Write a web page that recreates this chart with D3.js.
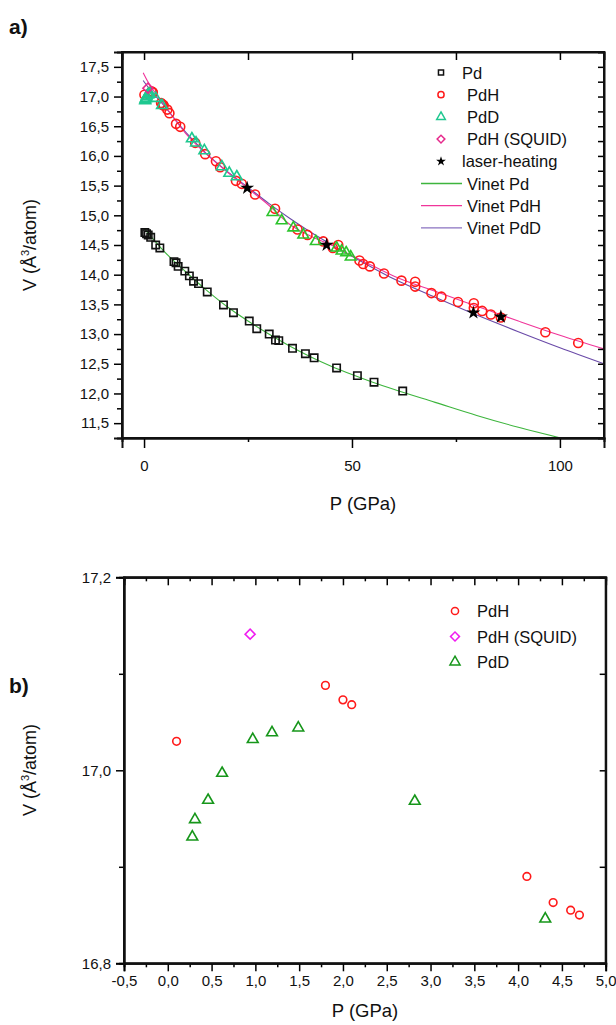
<!DOCTYPE html>
<html lang="en">
<head>
<meta charset="UTF-8" />
<script src="https://d3js.org/d3.v7.min.js"></script>
<style>
  body { margin: 0; background: #fff; }
  text { font-family: Arial, "Liberation Sans", sans-serif; fill: #111; }
  .tick text { font-size: 15px; }
  .domain { stroke-width: 2px; }
  .tick line { stroke-width: 1.5px; }
</style>
</head>
<body>
<script>
// ---- panel a) data, P (GPa) and V (A^3/atom) ----
var pdP = [0.2, 0.6, 1.0, 1.6, 2.8, 3.8, 7.2, 7.7, 8.2, 9.8, 10.9, 11.9, 13.1, 15.2, 19.1, 21.5, 25.3, 27.1, 30.1, 31.6, 32.4, 35.7, 38.8, 40.9, 46.3, 51.3, 55.3, 62.2];
var pdV = [14.71, 14.69, 14.67, 14.63, 14.50, 14.45, 14.22, 14.20, 14.14, 14.06, 13.98, 13.89, 13.85, 13.71, 13.49, 13.36, 13.22, 13.09, 13.00, 12.90, 12.89, 12.76, 12.67, 12.60, 12.43, 12.30, 12.19, 12.04];

var pdhP = [0.1, 1.8, 2.0, 2.1, 4.1, 4.4, 4.6, 4.7, 5.6, 6.1, 7.7, 8.7, 12.3, 14.7, 17.3, 18.3, 22.1, 23.5, 26.7, 31.5, 36.9, 39.3, 43.1, 45.4, 46.7, 51.8, 52.7, 54.3, 57.7, 61.9, 65.2, 65.2, 69.1, 71.5, 75.5, 79.3, 79.3, 81.3, 83.4, 85.8, 96.5, 104.4];
var pdhV = [17.03, 17.09, 17.07, 17.07, 16.89, 16.86, 16.86, 16.85, 16.78, 16.72, 16.54, 16.49, 16.22, 16.03, 15.91, 15.81, 15.58, 15.53, 15.35, 15.11, 14.76, 14.67, 14.56, 14.45, 14.50, 14.24, 14.18, 14.14, 14.02, 13.90, 13.88, 13.80, 13.69, 13.63, 13.54, 13.52, 13.44, 13.39, 13.33, 13.28, 13.03, 12.85];

var pddLowP = [0.28, 0.31, 0.46, 0.62, 0.97, 1.19, 1.49, 2.83, 4.32, 11.5, 12.5, 14.5, 18.7, 20.5, 22.3];
var pddLowV = [16.93, 16.95, 16.97, 17.00, 17.03, 17.04, 17.04, 16.97, 16.85, 16.29, 16.22, 16.09, 15.82, 15.71, 15.65];
var pddHighP = [30.9, 33.1, 35.9, 38.3, 41.3, 46.3, 47.5, 48.6, 49.7];
var pddHighV = [15.05, 14.91, 14.79, 14.67, 14.56, 14.45, 14.40, 14.37, 14.30];

var squidP = [0.93];
var squidV = [17.14];

var laserP = [24.8, 43.9, 79.2, 85.8];
var laserV = [15.46, 14.50, 13.36, 13.29];

// Vinet fit curves
var vinetPdP = [0, 5, 10, 15, 20, 25, 30, 35, 40, 45, 50, 55, 60, 70, 80, 90, 100.8];
var vinetPdV = [14.78, 14.38, 14.05, 13.74, 13.46, 13.22, 13.00, 12.80, 12.62, 12.46, 12.32, 12.19, 12.07, 11.85, 11.63, 11.43, 11.24];
var vinetPdhP = [-0.2, 0, 5, 10, 15, 20, 25, 30, 35, 40, 45, 50, 55, 60, 70, 80, 90, 100, 110.6];
var vinetPdhV = [17.40, 17.37, 16.85, 16.38, 16.03, 15.73, 15.45, 15.17, 14.85, 14.65, 14.50, 14.32, 14.15, 13.98, 13.72, 13.47, 13.22, 12.98, 12.75];
var vinetPddP = [-0.2, 0, 5, 10, 15, 20, 25, 30, 35, 40, 45, 50, 60, 70, 80, 90, 100, 110.6];
var vinetPddV = [17.27, 17.25, 16.83, 16.40, 16.04, 15.74, 15.47, 15.20, 14.95, 14.72, 14.51, 14.31, 13.93, 13.62, 13.32, 13.04, 12.77, 12.50];

var legendA = ["Pd", "PdH", "PdD", "PdH (SQUID)", "laser-heating", "Vinet Pd", "Vinet PdH", "Vinet PdD"];

// ---- panel b) data ----
var bPdhP = [0.1, 1.8, 2.0, 2.1, 4.1, 4.4, 4.6, 4.7];
var bPdhV = [17.030, 17.088, 17.073, 17.068, 16.890, 16.863, 16.855, 16.850];
var bSquidP = [0.94];
var bSquidV = [17.141];
var bPddP = [0.28, 0.31, 0.46, 0.62, 0.97, 1.19, 1.49, 2.82, 4.31];
var bPddV = [16.931, 16.949, 16.969, 16.997, 17.032, 17.039, 17.044, 16.968, 16.846];

var legendB = ["PdH", "PdH (SQUID)", "PdD"];

function zip(a, b) { return a.map(function(d, i) { return [d, b[i]]; }); }
// decimal comma and a plain hyphen for minus, like the original
function comma(f) { return function(d) { return d3.format(f)(d).replace(".", ",").replace("\u2212", "-"); }; }

var svg = d3.select("body").append("svg")
  .attr("width", 616).attr("height", 1025);

var symSquare = d3.symbol().type(d3.symbolSquare);
var symCircle = d3.symbol().type(d3.symbolCircle);
var symTri = d3.symbol().type(d3.symbolTriangle);
var symStar = d3.symbol().type(d3.symbolStar);

function drawPoints(g, x, y, pts, sym, size, color, rot, fill) {
  g.selectAll(null).data(pts).enter().append("path")
    .attr("d", sym.size(size)())
    .attr("transform", function(d) {
      return "translate(" + x(d[0]) + "," + y(d[1]) + ")" + (rot ? " rotate(" + rot + ")" : "");
    })
    .attr("fill", fill || "none")
    .attr("stroke", fill ? "none" : color)
    .attr("stroke-width", 1.6);
}

function frame(g, x, y, o) {
  var x0 = x.range()[0], x1 = x.range()[1], y0 = y.range()[0], y1 = y.range()[1];
  // bottom
  g.append("g").attr("transform", "translate(0," + y0 + ")")
    .call(d3.axisBottom(x).tickValues(o.xMinor).tickSize(4).tickFormat(""));
  g.append("g").attr("transform", "translate(0," + y0 + ")")
    .call(d3.axisBottom(x).tickValues(o.xMajor).tickSize(o.xMajorLen).tickPadding(o.xPad).tickFormat(o.xFmt));
  // top (inward)
  g.append("g").attr("transform", "translate(0," + y1 + ")")
    .call(d3.axisBottom(x).tickValues(o.xTop).tickSize(o.xTopLen).tickFormat(""));
  if (o.xTopMinor) g.append("g").attr("transform", "translate(0," + y1 + ")")
    .call(d3.axisBottom(x).tickValues(o.xTopMinor).tickSize(4).tickFormat(""));
  // left
  g.append("g").attr("transform", "translate(" + x0 + ",0)")
    .call(d3.axisLeft(y).tickValues(o.yMinor).tickSize(5).tickFormat(""));
  g.append("g").attr("transform", "translate(" + x0 + ",0)")
    .call(d3.axisLeft(y).tickValues(o.yMajor).tickSize(8).tickPadding(5).tickFormat(comma(".1f")));
  // right (inward)
  g.append("g").attr("transform", "translate(" + x1 + ",0)")
    .call(d3.axisLeft(y).tickValues(o.yRight).tickSize(6).tickFormat(""));
  g.selectAll(".domain").attr("stroke", "#111");
  g.append("rect").attr("x", x0).attr("y", y1).attr("width", x1 - x0).attr("height", y0 - y1)
    .attr("fill", "none").attr("stroke", "#111").attr("stroke-width", 2);
}

function yTitle(cx, cy) {
  var t = svg.append("text").attr("transform", "translate(" + cx + "," + cy + ") rotate(-90)")
    .attr("text-anchor", "middle").attr("font-size", 18);
  t.append("tspan").text("V (Å");
  t.append("tspan").text("3").attr("font-size", 11).attr("dy", -7);
  t.append("tspan").text("/atom)").attr("dy", 7);
}

// ================= panel a =================
var xa = d3.scaleLinear().domain([-5.3, 110.6]).range([122, 604]);
var ya = d3.scaleLinear().domain([11.25, 17.75]).range([438, 52]);
var ga = svg.append("g");

svg.append("defs").append("clipPath").attr("id", "clipA").append("rect")
  .attr("x", 122).attr("y", 52).attr("width", 482).attr("height", 386);

var line = d3.line().curve(d3.curveMonotoneX)
  .x(function(d) { return xa(d[0]); }).y(function(d) { return ya(d[1]); });

var curves = ga.append("g").attr("clip-path", "url(#clipA)");
curves.append("path").attr("d", line(zip(vinetPdP, vinetPdV))).attr("fill", "none").attr("stroke", "#3db53d").attr("stroke-width", 1.1);
curves.append("path").attr("d", line(zip(vinetPddP, vinetPddV))).attr("fill", "none").attr("stroke", "#6a4aa8").attr("stroke-width", 1.1);
curves.append("path").attr("d", line(zip(vinetPdhP, vinetPdhV))).attr("fill", "none").attr("stroke", "#f0359a").attr("stroke-width", 1.1);

drawPoints(ga, xa, ya, zip(pdP, pdV), symSquare, 54, "#111");
drawPoints(ga, xa, ya, zip(pdhP, pdhV), symCircle, 64, "#ff1a1a");
drawPoints(ga, xa, ya, zip(pddLowP, pddLowV), symTri, 50, "#1fc890");
drawPoints(ga, xa, ya, zip(pddHighP, pddHighV), symTri, 50, "#2cc42c");
drawPoints(ga, xa, ya, zip(squidP, squidV), symSquare, 50, "#e62a8c", 45);
drawPoints(ga, xa, ya, zip(laserP, laserV), symStar, 60, "#000", 0, "#000");

frame(ga, xa, ya, {
  xMajor: [0, 50, 100], xMinor: [25, 75], xMajorLen: 10, xPad: 12, xFmt: d3.format("d"),
  xTop: [0, 25, 50, 75, 100], xTopLen: 8,
  yMajor: d3.range(11.5, 17.51, 0.5), yMinor: d3.range(11.75, 17.6, 0.5),
  yRight: d3.range(11.5, 17.51, 0.25)
});

// legend a
var legA = ga.append("g").attr("font-size", 16.5);
var symsA = [
  function(s) { s.attr("d", symSquare.size(26)()).attr("stroke", "#111"); },
  function(s) { s.attr("d", symCircle.size(30)()).attr("stroke", "#ff1a1a"); },
  function(s) { s.attr("d", symTri.size(32)()).attr("stroke", "#1fc890"); },
  function(s) { s.attr("d", symSquare.size(30)()).attr("stroke", "#e62a8c"); },
  function(s) { s.attr("d", symStar.size(30)()).attr("fill", "#000"); }
];
var lineColors = ["#3db53d", "#f0359a", "#8a72c0"];
legendA.forEach(function(lab, i) {
  var cy = 72.5 + i * 22.2;
  var row = legA.append("g").attr("transform", "translate(0," + cy + ")");
  if (i < 5) {
    var p = row.append("path").attr("fill", "none").attr("stroke-width", 1.5);
    symsA[i](p);
    p.attr("transform", "translate(441,0)" + (i == 3 ? " rotate(45)" : ""));
  } else {
    row.append("line").attr("x1", 421).attr("x2", 462).attr("y1", 0).attr("y2", 0)
      .attr("stroke", lineColors[i - 5]).attr("stroke-width", 1.3);
  }
  row.append("text").attr("x", (i == 0 || i == 4) ? 462 : 467).attr("y", 6).text(lab);
});

svg.append("text").attr("x", 9).attr("y", 34).attr("font-size", 21).attr("font-weight", "bold").text("a)");
svg.append("text").attr("x", 363).attr("y", 510).attr("text-anchor", "middle").attr("font-size", 18.5).text("P (GPa)");
yTitle(36, 245);

// ================= panel b =================
var xb = d3.scaleLinear().domain([-0.5, 5.0]).range([124, 605.7]);
var yb = d3.scaleLinear().domain([16.8, 17.2]).range([963.3, 577.3]);
var gb = svg.append("g");

drawPoints(gb, xb, yb, zip(bPdhP, bPdhV), symCircle, 46, "#ff1a1a");
drawPoints(gb, xb, yb, zip(bSquidP, bSquidV), symSquare, 50, "#f01cf0", 45);
drawPoints(gb, xb, yb, zip(bPddP, bPddV), symTri, 50, "#16961a");

frame(gb, xb, yb, {
  xMajor: d3.range(-0.5, 5.01, 0.5), xMinor: d3.range(-0.25, 5.0, 0.5), xMajorLen: 8, xPad: 4, xFmt: comma(".1f"),
  xTop: d3.range(0, 5.0, 0.5), xTopLen: 8, xTopMinor: d3.range(-0.25, 5.0, 0.5),
  yMajor: [16.8, 17.0, 17.2], yMinor: [16.9, 17.1],
  yRight: [16.9, 17.0, 17.1]
});

var legB = gb.append("g").attr("font-size", 16.5);
legendB.forEach(function(lab, i) {
  var cy = 611 + i * 25.5;
  var p = legB.append("path").attr("fill", "none").attr("stroke-width", 1.5);
  if (i == 0) p.attr("d", symCircle.size(40)()).attr("stroke", "#ff1a1a").attr("transform", "translate(455," + cy + ")");
  if (i == 1) p.attr("d", symSquare.size(40)()).attr("stroke", "#f01cf0").attr("transform", "translate(455," + cy + ") rotate(45)");
  if (i == 2) p.attr("d", symTri.size(44)()).attr("stroke", "#16961a").attr("transform", "translate(455," + cy + ")");
  legB.append("text").attr("x", 477).attr("y", cy + 6).text(lab);
});

svg.append("text").attr("x", 9).attr("y", 693).attr("font-size", 21).attr("font-weight", "bold").text("b)");
svg.append("text").attr("x", 365).attr("y", 1017).attr("text-anchor", "middle").attr("font-size", 18.5).text("P (GPa)");
yTitle(36, 770);
</script>
</body>
</html>
